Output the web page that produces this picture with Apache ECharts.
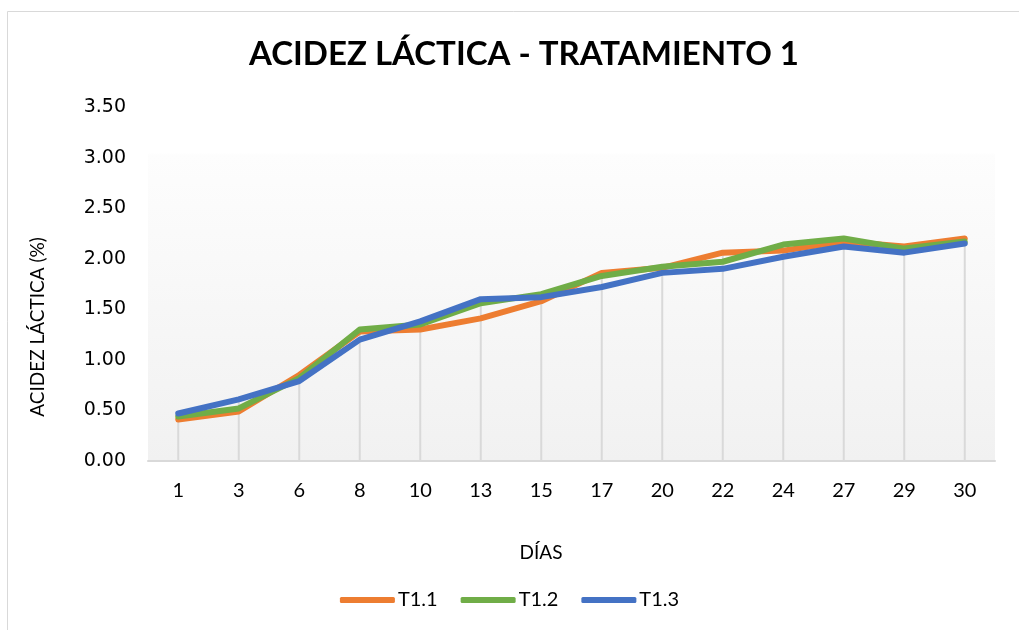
<!DOCTYPE html>
<html>
<head>
    <meta charset="utf-8">
    <title>Acidez láctica</title>
    <script src="https://cdn.jsdelivr.net/npm/echarts@6/dist/echarts.min.js"></script>
    <style type="text/css">
        html, body { height: 100%; margin: 0; padding: 0; background: #fff; }
        #main { width: 1019px; height: 630px; }
    </style>
</head>
<body>
<div id="main"></div>
<script type="text/javascript">
    // datos
    var dias = ['1', '3', '6', '8', '10', '13', '15', '17', '20', '22', '24', '27', '29', '30'];
    var t11 = [0.41, 0.49, 0.85, 1.28, 1.30, 1.41, 1.58, 1.86, 1.91, 2.06, 2.08, 2.17, 2.12, 2.20];
    var t12 = [0.44, 0.52, 0.82, 1.30, 1.35, 1.56, 1.65, 1.83, 1.92, 1.97, 2.14, 2.20, 2.10, 2.17];
    var t13 = [0.47, 0.61, 0.79, 1.20, 1.38, 1.60, 1.62, 1.72, 1.86, 1.90, 2.02, 2.12, 2.06, 2.15];

    // lineas de caida: hasta el punto mas alto de cada dia
    var caida = dias.map(function (d, i) {
        return Math.max(t11[i], t12[i], t13[i]);
    });

    var myChart = echarts.init(document.getElementById('main'));

    var option = {
        backgroundColor: '#fff',
        animation: false,
        title: {
            text: 'ACIDEZ LÁCTICA - TRATAMIENTO 1',
            left: 244,
            top: 33,
            textStyle: {
                fontFamily: 'Lato',
                fontWeight: 'bold',
                fontSize: 33,
                color: '#000'
            }
        },
        legend: {
            data: ['T1.1', 'T1.2', 'T1.3'],
            bottom: 15,
            left: 'center',
            icon: 'roundRect',
            itemWidth: 55,
            itemHeight: 6,
            itemGap: 23,
            textStyle: { fontFamily: 'Lato', fontSize: 20, color: '#000', padding: [0, 0, 0, -2] }
        },
        grid: {
            left: 148,
            right: 24,
            top: 107,
            bottom: 169,
            show: true,
            borderWidth: 0,
            backgroundColor: new echarts.graphic.LinearGradient(0, 0, 0, 1, [
                { offset: 0, color: '#ffffff' },
                { offset: 0.13, color: '#ffffff' },
                { offset: 0.135, color: '#fdfdfd' },
                { offset: 1, color: '#f1f1f1' }
            ])
        },
        xAxis: {
            type: 'category',
            data: dias,
            boundaryGap: true,
            axisLine: { lineStyle: { color: '#d9d9d9', width: 2 } },
            axisTick: { show: false },
            axisLabel: { margin: 20, fontFamily: 'Lato', fontSize: 20, color: '#000' },
            splitLine: { show: false }
        },
        yAxis: {
            type: 'value',
            min: 0,
            max: 3.5,
            interval: 0.5,
            axisLine: { show: false },
            axisTick: { show: false },
            splitLine: { show: false },
            axisLabel: {
                margin: 22,
                fontFamily: 'DejaVu Sans',
                fontSize: 19,
                color: '#000',
                formatter: function (v) { return v.toFixed(2); }
            }
        },
        graphic: [
            {
                type: 'rect',
                left: 5,
                top: 9,
                shape: { width: 1100, height: 700 },
                style: { fill: 'none', stroke: '#d9d9d9', lineWidth: 1 },
                silent: true
            },
            {
                type: 'text',
                x: 38,
                y: 327,
                rotation: Math.PI / 2,
                style: {
                    text: 'ACIDEZ LÁCTICA (%)',
                    fontFamily: 'Lato',
                    fontSize: 19,
                    fill: '#000',
                    textAlign: 'center',
                    textVerticalAlign: 'middle'
                }
            },
            {
                type: 'text',
                x: 541,
                y: 553,
                style: {
                    text: 'DÍAS',
                    fontFamily: 'Lato',
                    fontSize: 19,
                    fill: '#000',
                    textAlign: 'center',
                    textVerticalAlign: 'middle'
                }
            }
        ],
        series: [
            {
                name: 'caida',
                type: 'bar',
                data: caida,
                barWidth: 2,
                silent: true,
                z: 1,
                itemStyle: { color: '#d9d9d9' }
            },
            {
                name: 'T1.1',
                type: 'line',
                data: t11,
                symbol: 'none',
                z: 3,
                lineStyle: { color: '#ED7D31', width: 6, cap: 'round', join: 'round' },
                itemStyle: { color: '#ED7D31' }
            },
            {
                name: 'T1.2',
                type: 'line',
                data: t12,
                symbol: 'none',
                z: 4,
                lineStyle: { color: '#70AD47', width: 6, cap: 'round', join: 'round' },
                itemStyle: { color: '#70AD47' }
            },
            {
                name: 'T1.3',
                type: 'line',
                data: t13,
                symbol: 'none',
                z: 5,
                lineStyle: { color: '#4472C4', width: 6, cap: 'round', join: 'round' },
                itemStyle: { color: '#4472C4' }
            }
        ]
    };

    myChart.setOption(option);
</script>
</body>
</html>
